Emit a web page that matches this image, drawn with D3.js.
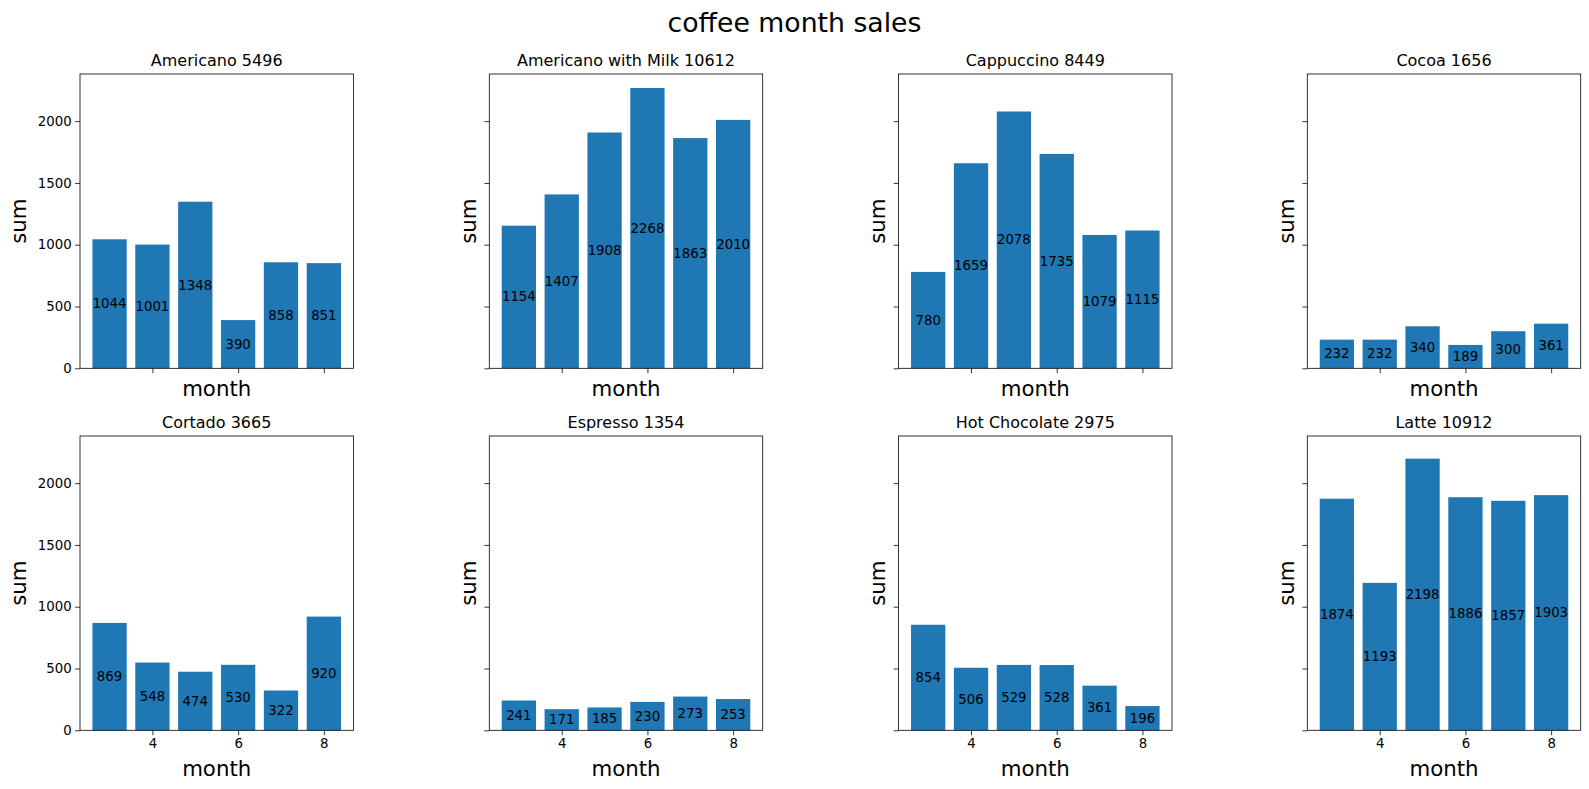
<!DOCTYPE html>
<html><head><meta charset="utf-8">
<script src="https://cdn.jsdelivr.net/npm/d3@7"></script>
<style>body{margin:0;background:#fff;} text{font-family:"DejaVu Sans",sans-serif;}</style>
</head><body>
<svg id="c" width="1589" height="789"></svg>
<script>
const months = [3,4,5,6,7,8];
const drinks = ["Americano","Americano with Milk","Cappuccino","Cocoa","Cortado","Espresso","Hot Chocolate","Latte"];
const totals = [5496,10612,8449,1656,3665,1354,2975,10912];
const americano = [1044,1001,1348,390,858,851];
const americanoMilk = [1154,1407,1908,2268,1863,2010];
const cappuccino = [780,1659,2078,1735,1079,1115];
const cocoa = [232,232,340,189,300,361];
const cortado = [869,548,474,530,322,920];
const espresso = [241,171,185,230,273,253];
const hotChocolate = [854,506,529,528,361,196];
const latte = [1874,1193,2198,1886,1857,1903];
const series = [americano,americanoMilk,cappuccino,cocoa,cortado,espresso,hotChocolate,latte];
const yTicks = [0,500,1000,1500,2000];
const xTicks = [4,6,8];

const svg = d3.select("#c");
svg.append("text").attr("x",794.5).attr("y",22.5).attr("text-anchor","middle")
  .attr("dominant-baseline","central").style("font-size","26.7px").text("coffee month sales");

const lefts = [80,489.3,898.6,1307.3], tops = [74,436], W = 273.4, H = 294.3;
const ymax = d3.max(series.flat())*1.05;
const x = d3.scaleLinear().domain([2.31,8.69]).range([0,W]);
const y = d3.scaleLinear().domain([0,ymax]).range([H,0]);

drinks.forEach((name,i)=>{
  const r = Math.floor(i/4), c = i%4;
  const g = svg.append("g").attr("transform",`translate(${lefts[c]},${tops[r]})`);
  const vals = series[i];
  g.selectAll("rect").data(months).join("rect")
    .attr("x",m=>x(m-0.4)).attr("width",x(0.8)-x(0))
    .attr("y",(m,j)=>y(vals[j])).attr("height",(m,j)=>H-y(vals[j]))
    .attr("fill","#1f77b4");
  g.selectAll("text.lbl").data(months).join("text").attr("class","lbl")
    .attr("x",m=>x(m)).attr("y",(m,j)=>y(vals[j]/2))
    .attr("text-anchor","middle").attr("dominant-baseline","central")
    .style("font-size","13.3px").text((m,j)=>vals[j]);
  const xa = d3.axisBottom(x).tickValues(xTicks).tickSize(4.9).tickPadding(3.5)
    .tickFormat(r===1? d3.format("d") : ()=> "");
  const xg = g.append("g").attr("transform",`translate(0,${H})`).call(xa);
  const ya = d3.axisLeft(y).tickValues(yTicks).tickSize(4.9).tickPadding(3.5)
    .tickFormat(c===0? d3.format("d") : ()=> "");
  const yg = g.append("g").call(ya);
  [xg,yg].forEach(a=>{a.select(".domain").remove(); a.selectAll("text").style("font-size","13.3px").style("font-family","DejaVu Sans").attr("fill","#000");
    a.selectAll("line").attr("stroke","#000").attr("stroke-width",0.8);});
  g.append("rect").attr("width",W).attr("height",H).attr("fill","none").attr("stroke","#000").attr("stroke-width",0.8);
  g.append("text").attr("x",W/2).attr("y",-8).attr("text-anchor","middle")
    .style("font-size","16px").text(name+" "+totals[i]);
  g.append("text").attr("x",W/2).attr("y",H+(r===1?38:20)).attr("text-anchor","middle")
    .attr("dominant-baseline","central").style("font-size","21.3px").text("month");
  g.append("text").attr("transform",`translate(${c===0?-62:-21},${H/2}) rotate(-90)`)
    .attr("text-anchor","middle").attr("dominant-baseline","central").style("font-size","21.3px").text("sum");
});
</script>
</body></html>
